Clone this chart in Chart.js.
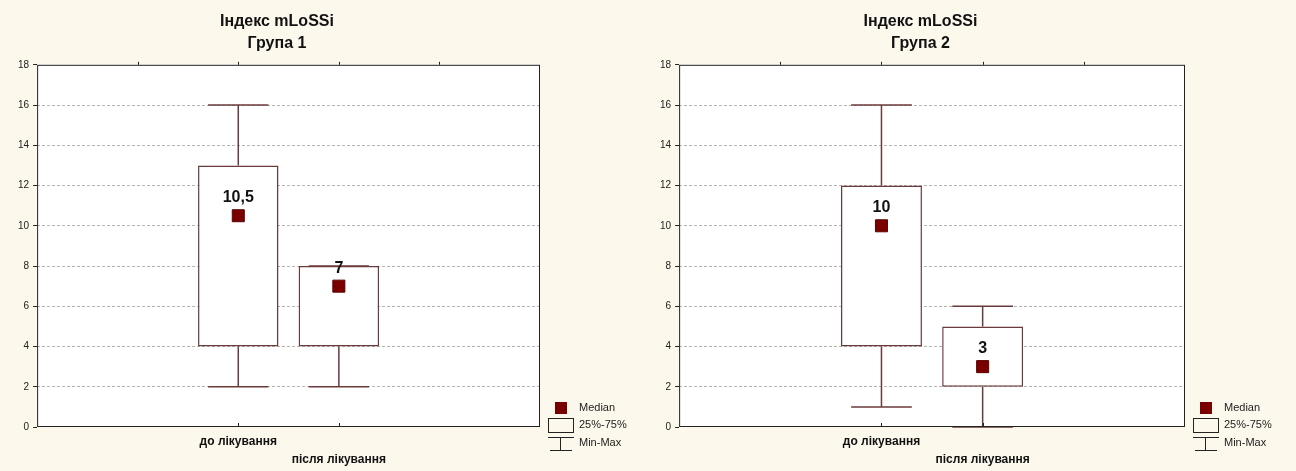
<!DOCTYPE html>
<html lang="uk">
<head>
<meta charset="utf-8">
<script src="https://cdn.jsdelivr.net/npm/chart.js@4.4.1/dist/chart.umd.min.js"></script>
<style>
  html, body { margin: 0; padding: 0; background: #fcf8ec; }
  .wrap { display: flex; width: 1296px; height: 471px; }
  .cell { width: 648px; height: 471px; }
</style>
</head>
<body>
<div class="wrap">
  <div class="cell"><canvas id="group1" width="648" height="471"></canvas></div>
  <div class="cell"><canvas id="group2" width="648" height="471"></canvas></div>
</div>
<script>
// Категорії та їх позиції на осі X (шкала 0..5)
const categories = ['до лікування', 'після лікування'];
const positions = [2, 3];
const yTicks = [0, 2, 4, 6, 8, 10, 12, 14, 16, 18];

// Група 1
const g1Min = [2, 2];
const g1Q1 = [4, 4];
const g1Median = [10.5, 7];
const g1Q3 = [13, 8];
const g1Max = [16, 8];

// Група 2
const g2Min = [1, 0];
const g2Q1 = [4, 2];
const g2Median = [10, 3];
const g2Q3 = [12, 5];
const g2Max = [16, 6];

const BOX_COLOR = '#6b3b3b';
const MEDIAN_COLOR = '#7a0000';
const FONT = 'Arial, "Liberation Sans", sans-serif';
Chart.defaults.font.family = FONT;
Chart.defaults.color = '#111';

function makeChart(id, groupName, mins, q1s, medians, q3s, maxs, padLeft, padRight) {
  const ctx = document.getElementById(id).getContext('2d');

  // Вуса, рамка, підписи медіан і легенда
  const extras = {
    id: 'extras',
    beforeDraw(chart) {
      const a = chart.chartArea, c = chart.ctx;
      c.save();
      c.fillStyle = '#ffffff';
      c.fillRect(a.left, a.top, a.right - a.left, a.bottom - a.top);
      c.restore();
    },
    afterDatasetsDraw(chart) {
      const c = chart.ctx, x = chart.scales.x, y = chart.scales.y;
      c.save();
      c.strokeStyle = BOX_COLOR;
      c.lineWidth = 1.5;
      positions.forEach((p, i) => {
        const px = x.getPixelForValue(p);
        const capL = x.getPixelForValue(p - 0.3), capR = x.getPixelForValue(p + 0.3);
        c.beginPath();
        c.moveTo(px, y.getPixelForValue(q3s[i]));
        c.lineTo(px, y.getPixelForValue(maxs[i]));
        c.moveTo(capL, y.getPixelForValue(maxs[i]));
        c.lineTo(capR, y.getPixelForValue(maxs[i]));
        c.moveTo(px, y.getPixelForValue(q1s[i]));
        c.lineTo(px, y.getPixelForValue(mins[i]));
        c.moveTo(capL, y.getPixelForValue(mins[i]));
        c.lineTo(capR, y.getPixelForValue(mins[i]));
        c.stroke();
      });
      c.restore();
    },
    afterDraw(chart) {
      const c = chart.ctx, x = chart.scales.x, y = chart.scales.y, a = chart.chartArea;
      c.save();
      // рамка
      c.strokeStyle = '#222';
      c.lineWidth = 1;
      c.strokeRect(a.left + 0.5, a.top + 0.5, a.right - a.left - 1, a.bottom - a.top - 1);
      c.beginPath();
      [1, 2, 3, 4].forEach(v => {
        const px = Math.round(x.getPixelForValue(v)) + 0.5;
        c.moveTo(px, a.top - 3);
        c.lineTo(px, a.top);
      });
      positions.forEach(v => {
        const px = Math.round(x.getPixelForValue(v)) + 0.5;
        c.moveTo(px, a.bottom - 4);
        c.lineTo(px, a.bottom);
      });
      c.stroke();

      // підписи медіан
      c.fillStyle = '#111';
      c.font = 'bold 16px ' + FONT;
      c.textAlign = 'center';
      c.textBaseline = 'middle';
      positions.forEach((p, i) => {
        c.fillText(String(medians[i]).replace('.', ','), x.getPixelForValue(p), y.getPixelForValue(medians[i]) - 18);
      });

      // легенда
      const lx = a.right, by = a.bottom;
      c.fillStyle = MEDIAN_COLOR;
      c.fillRect(lx + 15, by - 25, 12, 12);
      c.strokeStyle = '#222';
      c.lineWidth = 1;
      c.strokeRect(lx + 8.5, by - 8.5, 25, 14);
      c.beginPath();
      c.moveTo(lx + 8, by + 10.5);
      c.lineTo(lx + 34, by + 10.5);
      c.moveTo(lx + 20.5, by + 10.5);
      c.lineTo(lx + 20.5, by + 23.5);
      c.moveTo(lx + 10, by + 23.5);
      c.lineTo(lx + 32, by + 23.5);
      c.stroke();
      c.fillStyle = '#222';
      c.font = '11px ' + FONT;
      c.textAlign = 'left';
      c.fillText('Median', lx + 39, by - 19);
      c.fillText('25%-75%', lx + 39, by - 2);
      c.fillText('Min-Max', lx + 39, by + 16);
      c.restore();
    }
  };

  return new Chart(ctx, {
    type: 'bar',
    data: {
      datasets: [
        {
          type: 'scatter',
          label: 'Median',
          data: positions.map((p, i) => ({ x: p, y: medians[i] })),
          pointStyle: 'rect',
          radius: 8.5,
          backgroundColor: MEDIAN_COLOR,
          borderColor: '#5a0000',
          borderWidth: 1,
          order: 0
        },
        {
          type: 'bar',
          label: '25%-75%',
          data: positions.map((p, i) => ({ x: p, y: [q1s[i], q3s[i]] })),
          backgroundColor: '#ffffff',
          borderColor: BOX_COLOR,
          borderWidth: 1.5,
          borderSkipped: false,
          categoryPercentage: 1,
          barPercentage: 0.8,
          order: 1
        }
      ]
    },
    options: {
      responsive: false,
      animation: false,
      layout: { padding: { left: padLeft, right: padRight, top: 0, bottom: -4 } },
      plugins: {
        legend: { display: false },
        tooltip: { enabled: false },
        title: {
          display: true,
          text: ['Індекс mLoSSi', groupName],
          font: { size: 16, weight: 'bold', lineHeight: 1.4 },
          color: '#111',
          padding: { top: 10, bottom: 10 }
        }
      },
      scales: {
        x: {
          type: 'linear',
          min: 0,
          max: 5,
          offset: false,
          grid: { display: false, drawTicks: false, offset: false },
          border: { display: false },
          ticks: {
            stepSize: 1,
            autoSkip: false,
            maxRotation: 0,
            padding: 6,
            color: '#111',
            font: { size: 12, weight: 'bold', lineHeight: 1.5 },
            callback: (v) => {
              const i = positions.indexOf(v);
              if (i < 0) return '';
              return i % 2 === 0 ? categories[i] : ['', categories[i]];
            }
          }
        },
        y: {
          min: 0,
          max: 18,
          afterBuildTicks: (scale) => { scale.ticks = yTicks.map(v => ({ value: v })); },
          grid: {
            color: (c) => (c.tick && (c.tick.value === 0 || c.tick.value === 18)) ? 'rgba(0,0,0,0)' : '#b4b4b4',
            lineWidth: 1,
            tickColor: '#222',
            tickLength: 4
          },
          border: { display: false, dash: [3, 2] },
          ticks: { padding: 4, color: '#222', font: { size: 10 } }
        }
      }
    },
    plugins: [extras]
  });
}

makeChart('group1', 'Група 1', g1Min, g1Q1, g1Median, g1Q3, g1Max, 14, 108);
makeChart('group2', 'Група 2', g2Min, g2Q1, g2Median, g2Q3, g2Max, 8, 111);
</script>
</body>
</html>
